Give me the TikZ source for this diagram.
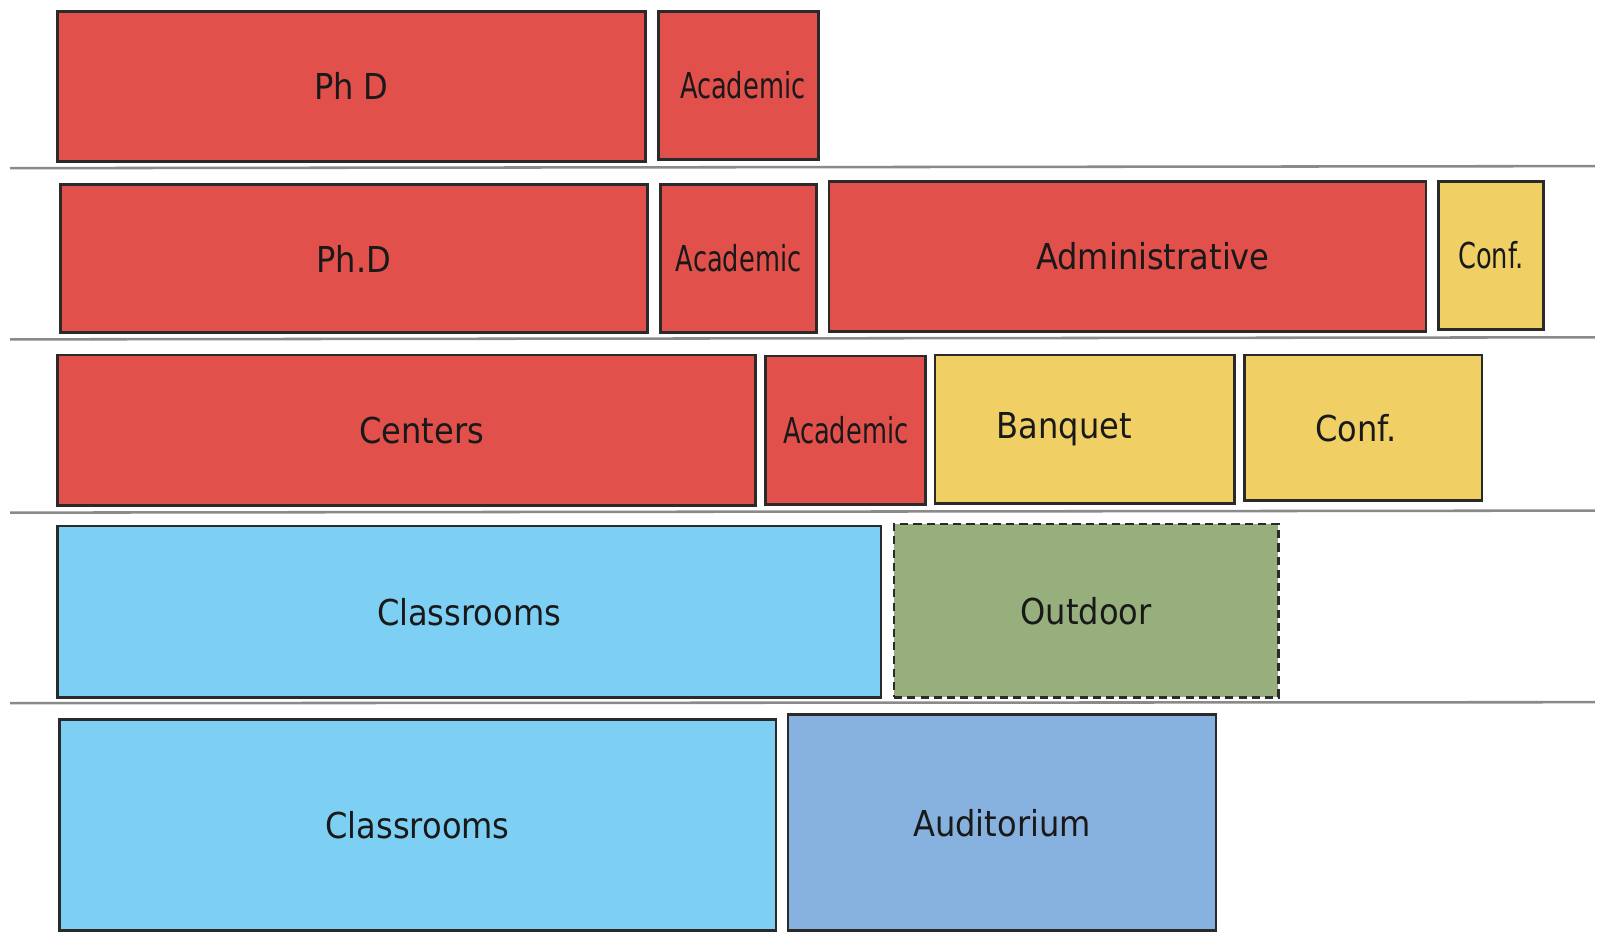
\documentclass[tikz,border=0pt]{standalone}
\usepackage{fontspec}
\setmainfont{DejaVu Sans Condensed}
\definecolor{cred}{HTML}{E2504C}
\definecolor{cyel}{HTML}{F0D064}
\definecolor{cblue}{HTML}{7DD0F4}
\definecolor{cgreen}{HTML}{97AF7D}
\definecolor{caud}{HTML}{87B1DF}
\definecolor{cline}{HTML}{2A2A2A}
\definecolor{csep}{HTML}{8A8A8A}
\newcommand{\narrowtxt}[1]{\scalebox{0.8}[1]{#1}}
\begin{document}
\begin{tikzpicture}[x=1pt,y=-1pt,
  room/.style={draw=cline, line width=2.5pt, anchor=north west, inner sep=0pt,
    text=black!90, font=\fontsize{35}{40}\selectfont},
  sep/.style={draw=csep, line width=2.5pt}]
\useasboundingbox (0,0) rectangle (1568,918);
\fill[white] (0,0) rectangle (1568,918);
% separators
\coordinate (s1a) at (10,165); \coordinate (s1b) at (1565,163);
\coordinate (s2a) at (10,333); \coordinate (s2b) at (1565,331);
\coordinate (s3a) at (10,503); \coordinate (s3b) at (1565,501);
\coordinate (s4a) at (10,690); \coordinate (s4b) at (1565,689);
\draw[sep] (s1a) -- (s1b);
\draw[sep] (s2a) -- (s2b);
\draw[sep] (s3a) -- (s3b);
\draw[sep] (s4a) -- (s4b);
% row 1
\node[room, fill=cred, minimum width=577pt, minimum height=147pt] (phd1) at (55,10) {Ph D};
\node[room, fill=cred, minimum width=157pt, minimum height=145pt] (aca1) at (645,10) {\hspace*{8pt}\narrowtxt{Academic}};
% row 2
\node[room, fill=cred, minimum width=576pt, minimum height=145pt] (phd2) at (58,180) {Ph.D};
\node[room, fill=cred, minimum width=153pt, minimum height=145pt] (aca2) at (647,180) {\narrowtxt{Academic}};
\node[room, fill=cred, minimum width=586pt, minimum height=147pt] (adm) at (812,177) {\hspace*{50pt}Administrative};
\node[room, fill=cyel, minimum width=103pt, minimum height=145pt] (conf2) at (1410,177) {\narrowtxt{Conf.}};
% row 3
\node[room, fill=cred, minimum width=685pt, minimum height=148pt] (cen) at (55,347) {Centers\hspace*{-30pt}};
\node[room, fill=cred, minimum width=157pt, minimum height=146pt] (aca3) at (750,348) {\narrowtxt{Academic}};
\node[room, fill=cyel, minimum width=294pt, minimum height=146pt] (banq) at (916,347) {Banquet\hspace*{40pt}};
\node[room, fill=cyel, minimum width=233pt, minimum height=143pt] (conf3) at (1220,347) {Conf.\hspace*{15pt}};
% row 4
\node[room, fill=cblue, minimum width=808pt, minimum height=168pt] (cls4) at (55,515) {Classrooms};
\node[room, fill=cgreen, dashed, dash pattern=on 8pt off 5pt, minimum width=377pt, minimum height=170pt] (out) at (876,513) {Outdoor};
% row 5
\node[room, fill=cblue, minimum width=703pt, minimum height=207pt] (cls5) at (57,705) {Classrooms};
\node[room, fill=caud, minimum width=420pt, minimum height=212pt] (aud) at (772,700) {Auditorium};
\end{tikzpicture}
\end{document}
